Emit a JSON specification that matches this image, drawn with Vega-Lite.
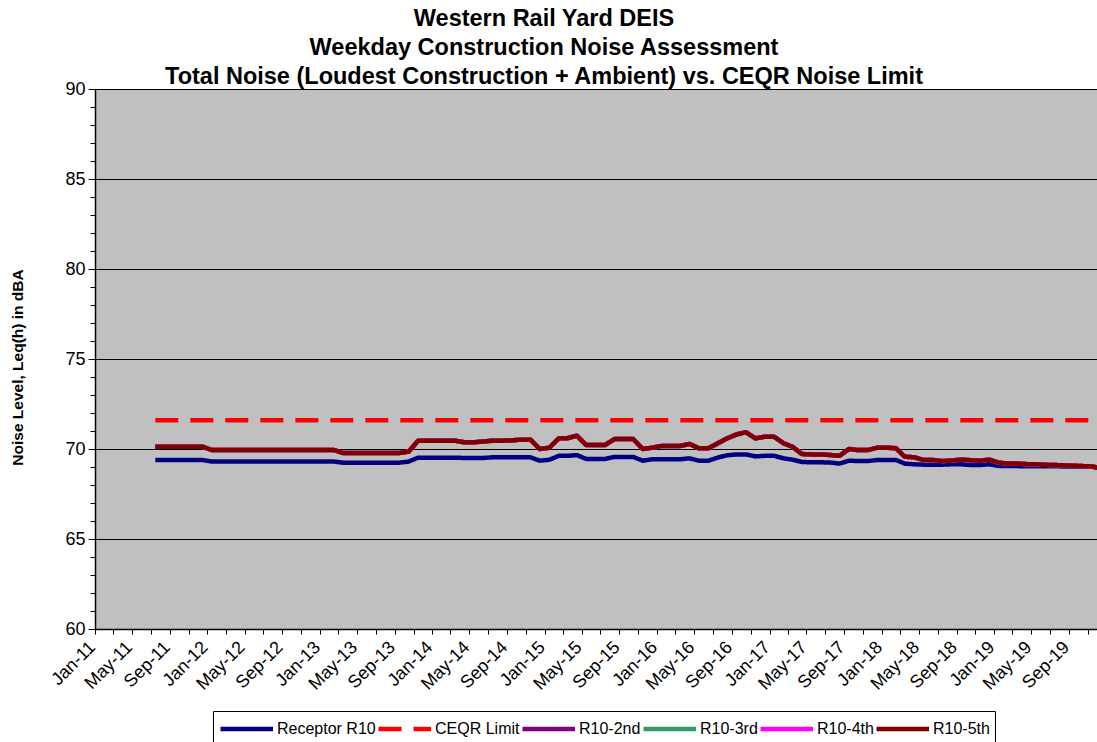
{
"$schema": "https://vega.github.io/schema/vega-lite/v6.json",
"width": 1002,
"height": 540,
"autosize": "none",
"padding": {"left": 95, "top": 89, "right": 0, "bottom": 113},
"background": "white",
"config": {"font": "Liberation Sans", "view": {"fill": "#C0C0C0", "stroke": null}},
"title": {"text": ["Western Rail Yard DEIS", "Weekday Construction Noise Assessment", "Total Noise (Loudest Construction + Ambient) vs. CEQR Noise Limit"], "fontSize": 23.5, "fontWeight": "bold", "font": "Liberation Sans", "lineHeight": 29, "anchor": "middle", "frame": "group", "dx": -52, "offset": -8, "color": "black"},
"data": {"values": [
{"month":"2011-07-16","series":"Receptor R10","dBA":69.39},
{"month":"2011-08-16","series":"Receptor R10","dBA":69.39},
{"month":"2011-09-16","series":"Receptor R10","dBA":69.39},
{"month":"2011-10-16","series":"Receptor R10","dBA":69.39},
{"month":"2011-11-16","series":"Receptor R10","dBA":69.39},
{"month":"2011-12-16","series":"Receptor R10","dBA":69.39},
{"month":"2012-01-16","series":"Receptor R10","dBA":69.30},
{"month":"2012-02-16","series":"Receptor R10","dBA":69.30},
{"month":"2012-03-16","series":"Receptor R10","dBA":69.30},
{"month":"2012-04-16","series":"Receptor R10","dBA":69.30},
{"month":"2012-05-16","series":"Receptor R10","dBA":69.30},
{"month":"2012-06-16","series":"Receptor R10","dBA":69.30},
{"month":"2012-07-16","series":"Receptor R10","dBA":69.30},
{"month":"2012-08-16","series":"Receptor R10","dBA":69.30},
{"month":"2012-09-16","series":"Receptor R10","dBA":69.30},
{"month":"2012-10-16","series":"Receptor R10","dBA":69.30},
{"month":"2012-11-16","series":"Receptor R10","dBA":69.30},
{"month":"2012-12-16","series":"Receptor R10","dBA":69.30},
{"month":"2013-01-16","series":"Receptor R10","dBA":69.30},
{"month":"2013-02-16","series":"Receptor R10","dBA":69.30},
{"month":"2013-03-16","series":"Receptor R10","dBA":69.24},
{"month":"2013-04-16","series":"Receptor R10","dBA":69.24},
{"month":"2013-05-16","series":"Receptor R10","dBA":69.24},
{"month":"2013-06-16","series":"Receptor R10","dBA":69.24},
{"month":"2013-07-16","series":"Receptor R10","dBA":69.24},
{"month":"2013-08-16","series":"Receptor R10","dBA":69.24},
{"month":"2013-09-16","series":"Receptor R10","dBA":69.24},
{"month":"2013-10-16","series":"Receptor R10","dBA":69.30},
{"month":"2013-11-16","series":"Receptor R10","dBA":69.52},
{"month":"2013-12-16","series":"Receptor R10","dBA":69.52},
{"month":"2014-01-16","series":"Receptor R10","dBA":69.52},
{"month":"2014-02-16","series":"Receptor R10","dBA":69.52},
{"month":"2014-03-16","series":"Receptor R10","dBA":69.52},
{"month":"2014-04-16","series":"Receptor R10","dBA":69.50},
{"month":"2014-05-16","series":"Receptor R10","dBA":69.50},
{"month":"2014-06-16","series":"Receptor R10","dBA":69.50},
{"month":"2014-07-16","series":"Receptor R10","dBA":69.54},
{"month":"2014-08-16","series":"Receptor R10","dBA":69.54},
{"month":"2014-09-16","series":"Receptor R10","dBA":69.54},
{"month":"2014-10-16","series":"Receptor R10","dBA":69.54},
{"month":"2014-11-16","series":"Receptor R10","dBA":69.54},
{"month":"2014-12-16","series":"Receptor R10","dBA":69.35},
{"month":"2015-01-16","series":"Receptor R10","dBA":69.40},
{"month":"2015-02-16","series":"Receptor R10","dBA":69.62},
{"month":"2015-03-16","series":"Receptor R10","dBA":69.62},
{"month":"2015-04-16","series":"Receptor R10","dBA":69.66},
{"month":"2015-05-16","series":"Receptor R10","dBA":69.45},
{"month":"2015-06-16","series":"Receptor R10","dBA":69.45},
{"month":"2015-07-16","series":"Receptor R10","dBA":69.45},
{"month":"2015-08-16","series":"Receptor R10","dBA":69.56},
{"month":"2015-09-16","series":"Receptor R10","dBA":69.56},
{"month":"2015-10-16","series":"Receptor R10","dBA":69.56},
{"month":"2015-11-16","series":"Receptor R10","dBA":69.35},
{"month":"2015-12-16","series":"Receptor R10","dBA":69.43},
{"month":"2016-01-16","series":"Receptor R10","dBA":69.43},
{"month":"2016-02-16","series":"Receptor R10","dBA":69.43},
{"month":"2016-03-16","series":"Receptor R10","dBA":69.43},
{"month":"2016-04-16","series":"Receptor R10","dBA":69.48},
{"month":"2016-05-16","series":"Receptor R10","dBA":69.35},
{"month":"2016-06-16","series":"Receptor R10","dBA":69.35},
{"month":"2016-07-16","series":"Receptor R10","dBA":69.52},
{"month":"2016-08-16","series":"Receptor R10","dBA":69.65},
{"month":"2016-09-16","series":"Receptor R10","dBA":69.70},
{"month":"2016-10-16","series":"Receptor R10","dBA":69.70},
{"month":"2016-11-16","series":"Receptor R10","dBA":69.59},
{"month":"2016-12-16","series":"Receptor R10","dBA":69.62},
{"month":"2017-01-16","series":"Receptor R10","dBA":69.62},
{"month":"2017-02-16","series":"Receptor R10","dBA":69.48},
{"month":"2017-03-16","series":"Receptor R10","dBA":69.41},
{"month":"2017-04-16","series":"Receptor R10","dBA":69.28},
{"month":"2017-05-16","series":"Receptor R10","dBA":69.26},
{"month":"2017-06-16","series":"Receptor R10","dBA":69.26},
{"month":"2017-07-16","series":"Receptor R10","dBA":69.25},
{"month":"2017-08-16","series":"Receptor R10","dBA":69.19},
{"month":"2017-09-16","series":"Receptor R10","dBA":69.35},
{"month":"2017-10-16","series":"Receptor R10","dBA":69.33},
{"month":"2017-11-16","series":"Receptor R10","dBA":69.33},
{"month":"2017-12-16","series":"Receptor R10","dBA":69.39},
{"month":"2018-01-16","series":"Receptor R10","dBA":69.39},
{"month":"2018-02-16","series":"Receptor R10","dBA":69.39},
{"month":"2018-03-16","series":"Receptor R10","dBA":69.19},
{"month":"2018-04-16","series":"Receptor R10","dBA":69.15},
{"month":"2018-05-16","series":"Receptor R10","dBA":69.13},
{"month":"2018-06-16","series":"Receptor R10","dBA":69.13},
{"month":"2018-07-16","series":"Receptor R10","dBA":69.13},
{"month":"2018-08-16","series":"Receptor R10","dBA":69.15},
{"month":"2018-09-16","series":"Receptor R10","dBA":69.15},
{"month":"2018-10-16","series":"Receptor R10","dBA":69.11},
{"month":"2018-11-16","series":"Receptor R10","dBA":69.11},
{"month":"2018-12-16","series":"Receptor R10","dBA":69.15},
{"month":"2019-01-16","series":"Receptor R10","dBA":69.06},
{"month":"2019-02-16","series":"Receptor R10","dBA":69.05},
{"month":"2019-03-16","series":"Receptor R10","dBA":69.05},
{"month":"2019-04-16","series":"Receptor R10","dBA":69.04},
{"month":"2019-05-16","series":"Receptor R10","dBA":69.04},
{"month":"2019-06-16","series":"Receptor R10","dBA":69.04},
{"month":"2019-07-16","series":"Receptor R10","dBA":69.04},
{"month":"2019-08-16","series":"Receptor R10","dBA":69.03},
{"month":"2019-09-16","series":"Receptor R10","dBA":69.03},
{"month":"2019-10-16","series":"Receptor R10","dBA":69.02},
{"month":"2019-11-16","series":"Receptor R10","dBA":69.01},
{"month":"2019-12-16","series":"Receptor R10","dBA":68.93},
{"month":"2011-07-16","series":"CEQR Limit","dBA":71.6},
{"month":"2019-12-16","series":"CEQR Limit","dBA":71.6},
{"month":"2011-07-16","series":"R10-2nd","dBA":70.13},
{"month":"2011-08-16","series":"R10-2nd","dBA":70.13},
{"month":"2011-09-16","series":"R10-2nd","dBA":70.13},
{"month":"2011-10-16","series":"R10-2nd","dBA":70.13},
{"month":"2011-11-16","series":"R10-2nd","dBA":70.13},
{"month":"2011-12-16","series":"R10-2nd","dBA":70.13},
{"month":"2012-01-16","series":"R10-2nd","dBA":69.94},
{"month":"2012-02-16","series":"R10-2nd","dBA":69.94},
{"month":"2012-03-16","series":"R10-2nd","dBA":69.94},
{"month":"2012-04-16","series":"R10-2nd","dBA":69.94},
{"month":"2012-05-16","series":"R10-2nd","dBA":69.94},
{"month":"2012-06-16","series":"R10-2nd","dBA":69.94},
{"month":"2012-07-16","series":"R10-2nd","dBA":69.94},
{"month":"2012-08-16","series":"R10-2nd","dBA":69.94},
{"month":"2012-09-16","series":"R10-2nd","dBA":69.94},
{"month":"2012-10-16","series":"R10-2nd","dBA":69.94},
{"month":"2012-11-16","series":"R10-2nd","dBA":69.94},
{"month":"2012-12-16","series":"R10-2nd","dBA":69.94},
{"month":"2013-01-16","series":"R10-2nd","dBA":69.94},
{"month":"2013-02-16","series":"R10-2nd","dBA":69.94},
{"month":"2013-03-16","series":"R10-2nd","dBA":69.78},
{"month":"2013-04-16","series":"R10-2nd","dBA":69.78},
{"month":"2013-05-16","series":"R10-2nd","dBA":69.78},
{"month":"2013-06-16","series":"R10-2nd","dBA":69.78},
{"month":"2013-07-16","series":"R10-2nd","dBA":69.78},
{"month":"2013-08-16","series":"R10-2nd","dBA":69.78},
{"month":"2013-09-16","series":"R10-2nd","dBA":69.78},
{"month":"2013-10-16","series":"R10-2nd","dBA":69.85},
{"month":"2013-11-16","series":"R10-2nd","dBA":70.46},
{"month":"2013-12-16","series":"R10-2nd","dBA":70.46},
{"month":"2014-01-16","series":"R10-2nd","dBA":70.46},
{"month":"2014-02-16","series":"R10-2nd","dBA":70.46},
{"month":"2014-03-16","series":"R10-2nd","dBA":70.46},
{"month":"2014-04-16","series":"R10-2nd","dBA":70.37},
{"month":"2014-05-16","series":"R10-2nd","dBA":70.37},
{"month":"2014-06-16","series":"R10-2nd","dBA":70.42},
{"month":"2014-07-16","series":"R10-2nd","dBA":70.46},
{"month":"2014-08-16","series":"R10-2nd","dBA":70.46},
{"month":"2014-09-16","series":"R10-2nd","dBA":70.48},
{"month":"2014-10-16","series":"R10-2nd","dBA":70.52},
{"month":"2014-11-16","series":"R10-2nd","dBA":70.52},
{"month":"2014-12-16","series":"R10-2nd","dBA":70.00},
{"month":"2015-01-16","series":"R10-2nd","dBA":70.07},
{"month":"2015-02-16","series":"R10-2nd","dBA":70.59},
{"month":"2015-03-16","series":"R10-2nd","dBA":70.60},
{"month":"2015-04-16","series":"R10-2nd","dBA":70.74},
{"month":"2015-05-16","series":"R10-2nd","dBA":70.22},
{"month":"2015-06-16","series":"R10-2nd","dBA":70.22},
{"month":"2015-07-16","series":"R10-2nd","dBA":70.22},
{"month":"2015-08-16","series":"R10-2nd","dBA":70.55},
{"month":"2015-09-16","series":"R10-2nd","dBA":70.55},
{"month":"2015-10-16","series":"R10-2nd","dBA":70.55},
{"month":"2015-11-16","series":"R10-2nd","dBA":70.00},
{"month":"2015-12-16","series":"R10-2nd","dBA":70.07},
{"month":"2016-01-16","series":"R10-2nd","dBA":70.17},
{"month":"2016-02-16","series":"R10-2nd","dBA":70.17},
{"month":"2016-03-16","series":"R10-2nd","dBA":70.17},
{"month":"2016-04-16","series":"R10-2nd","dBA":70.28},
{"month":"2016-05-16","series":"R10-2nd","dBA":70.04},
{"month":"2016-06-16","series":"R10-2nd","dBA":70.04},
{"month":"2016-07-16","series":"R10-2nd","dBA":70.31},
{"month":"2016-08-16","series":"R10-2nd","dBA":70.59},
{"month":"2016-09-16","series":"R10-2nd","dBA":70.81},
{"month":"2016-10-16","series":"R10-2nd","dBA":70.93},
{"month":"2016-11-16","series":"R10-2nd","dBA":70.59},
{"month":"2016-12-16","series":"R10-2nd","dBA":70.68},
{"month":"2017-01-16","series":"R10-2nd","dBA":70.68},
{"month":"2017-02-16","series":"R10-2nd","dBA":70.31},
{"month":"2017-03-16","series":"R10-2nd","dBA":70.13},
{"month":"2017-04-16","series":"R10-2nd","dBA":69.72},
{"month":"2017-05-16","series":"R10-2nd","dBA":69.70},
{"month":"2017-06-16","series":"R10-2nd","dBA":69.70},
{"month":"2017-07-16","series":"R10-2nd","dBA":69.67},
{"month":"2017-08-16","series":"R10-2nd","dBA":69.62},
{"month":"2017-09-16","series":"R10-2nd","dBA":70.00},
{"month":"2017-10-16","series":"R10-2nd","dBA":69.94},
{"month":"2017-11-16","series":"R10-2nd","dBA":69.94},
{"month":"2017-12-16","series":"R10-2nd","dBA":70.07},
{"month":"2018-01-16","series":"R10-2nd","dBA":70.09},
{"month":"2018-02-16","series":"R10-2nd","dBA":70.05},
{"month":"2018-03-16","series":"R10-2nd","dBA":69.57},
{"month":"2018-04-16","series":"R10-2nd","dBA":69.54},
{"month":"2018-05-16","series":"R10-2nd","dBA":69.39},
{"month":"2018-06-16","series":"R10-2nd","dBA":69.39},
{"month":"2018-07-16","series":"R10-2nd","dBA":69.33},
{"month":"2018-08-16","series":"R10-2nd","dBA":69.36},
{"month":"2018-09-16","series":"R10-2nd","dBA":69.41},
{"month":"2018-10-16","series":"R10-2nd","dBA":69.38},
{"month":"2018-11-16","series":"R10-2nd","dBA":69.35},
{"month":"2018-12-16","series":"R10-2nd","dBA":69.41},
{"month":"2019-01-16","series":"R10-2nd","dBA":69.24},
{"month":"2019-02-16","series":"R10-2nd","dBA":69.19},
{"month":"2019-03-16","series":"R10-2nd","dBA":69.19},
{"month":"2019-04-16","series":"R10-2nd","dBA":69.16},
{"month":"2019-05-16","series":"R10-2nd","dBA":69.15},
{"month":"2019-06-16","series":"R10-2nd","dBA":69.12},
{"month":"2019-07-16","series":"R10-2nd","dBA":69.11},
{"month":"2019-08-16","series":"R10-2nd","dBA":69.09},
{"month":"2019-09-16","series":"R10-2nd","dBA":69.07},
{"month":"2019-10-16","series":"R10-2nd","dBA":69.05},
{"month":"2019-11-16","series":"R10-2nd","dBA":69.03},
{"month":"2019-12-16","series":"R10-2nd","dBA":68.90},
{"month":"2011-07-16","series":"R10-3rd","dBA":70.13},
{"month":"2011-08-16","series":"R10-3rd","dBA":70.13},
{"month":"2011-09-16","series":"R10-3rd","dBA":70.13},
{"month":"2011-10-16","series":"R10-3rd","dBA":70.13},
{"month":"2011-11-16","series":"R10-3rd","dBA":70.13},
{"month":"2011-12-16","series":"R10-3rd","dBA":70.13},
{"month":"2012-01-16","series":"R10-3rd","dBA":69.94},
{"month":"2012-02-16","series":"R10-3rd","dBA":69.94},
{"month":"2012-03-16","series":"R10-3rd","dBA":69.94},
{"month":"2012-04-16","series":"R10-3rd","dBA":69.94},
{"month":"2012-05-16","series":"R10-3rd","dBA":69.94},
{"month":"2012-06-16","series":"R10-3rd","dBA":69.94},
{"month":"2012-07-16","series":"R10-3rd","dBA":69.94},
{"month":"2012-08-16","series":"R10-3rd","dBA":69.94},
{"month":"2012-09-16","series":"R10-3rd","dBA":69.94},
{"month":"2012-10-16","series":"R10-3rd","dBA":69.94},
{"month":"2012-11-16","series":"R10-3rd","dBA":69.94},
{"month":"2012-12-16","series":"R10-3rd","dBA":69.94},
{"month":"2013-01-16","series":"R10-3rd","dBA":69.94},
{"month":"2013-02-16","series":"R10-3rd","dBA":69.94},
{"month":"2013-03-16","series":"R10-3rd","dBA":69.78},
{"month":"2013-04-16","series":"R10-3rd","dBA":69.78},
{"month":"2013-05-16","series":"R10-3rd","dBA":69.78},
{"month":"2013-06-16","series":"R10-3rd","dBA":69.78},
{"month":"2013-07-16","series":"R10-3rd","dBA":69.78},
{"month":"2013-08-16","series":"R10-3rd","dBA":69.78},
{"month":"2013-09-16","series":"R10-3rd","dBA":69.78},
{"month":"2013-10-16","series":"R10-3rd","dBA":69.85},
{"month":"2013-11-16","series":"R10-3rd","dBA":70.46},
{"month":"2013-12-16","series":"R10-3rd","dBA":70.46},
{"month":"2014-01-16","series":"R10-3rd","dBA":70.46},
{"month":"2014-02-16","series":"R10-3rd","dBA":70.46},
{"month":"2014-03-16","series":"R10-3rd","dBA":70.46},
{"month":"2014-04-16","series":"R10-3rd","dBA":70.37},
{"month":"2014-05-16","series":"R10-3rd","dBA":70.37},
{"month":"2014-06-16","series":"R10-3rd","dBA":70.42},
{"month":"2014-07-16","series":"R10-3rd","dBA":70.46},
{"month":"2014-08-16","series":"R10-3rd","dBA":70.46},
{"month":"2014-09-16","series":"R10-3rd","dBA":70.48},
{"month":"2014-10-16","series":"R10-3rd","dBA":70.52},
{"month":"2014-11-16","series":"R10-3rd","dBA":70.52},
{"month":"2014-12-16","series":"R10-3rd","dBA":70.00},
{"month":"2015-01-16","series":"R10-3rd","dBA":70.07},
{"month":"2015-02-16","series":"R10-3rd","dBA":70.59},
{"month":"2015-03-16","series":"R10-3rd","dBA":70.60},
{"month":"2015-04-16","series":"R10-3rd","dBA":70.74},
{"month":"2015-05-16","series":"R10-3rd","dBA":70.22},
{"month":"2015-06-16","series":"R10-3rd","dBA":70.22},
{"month":"2015-07-16","series":"R10-3rd","dBA":70.22},
{"month":"2015-08-16","series":"R10-3rd","dBA":70.55},
{"month":"2015-09-16","series":"R10-3rd","dBA":70.55},
{"month":"2015-10-16","series":"R10-3rd","dBA":70.55},
{"month":"2015-11-16","series":"R10-3rd","dBA":70.00},
{"month":"2015-12-16","series":"R10-3rd","dBA":70.07},
{"month":"2016-01-16","series":"R10-3rd","dBA":70.17},
{"month":"2016-02-16","series":"R10-3rd","dBA":70.17},
{"month":"2016-03-16","series":"R10-3rd","dBA":70.17},
{"month":"2016-04-16","series":"R10-3rd","dBA":70.28},
{"month":"2016-05-16","series":"R10-3rd","dBA":70.04},
{"month":"2016-06-16","series":"R10-3rd","dBA":70.04},
{"month":"2016-07-16","series":"R10-3rd","dBA":70.31},
{"month":"2016-08-16","series":"R10-3rd","dBA":70.59},
{"month":"2016-09-16","series":"R10-3rd","dBA":70.81},
{"month":"2016-10-16","series":"R10-3rd","dBA":70.93},
{"month":"2016-11-16","series":"R10-3rd","dBA":70.59},
{"month":"2016-12-16","series":"R10-3rd","dBA":70.68},
{"month":"2017-01-16","series":"R10-3rd","dBA":70.68},
{"month":"2017-02-16","series":"R10-3rd","dBA":70.31},
{"month":"2017-03-16","series":"R10-3rd","dBA":70.13},
{"month":"2017-04-16","series":"R10-3rd","dBA":69.72},
{"month":"2017-05-16","series":"R10-3rd","dBA":69.70},
{"month":"2017-06-16","series":"R10-3rd","dBA":69.70},
{"month":"2017-07-16","series":"R10-3rd","dBA":69.67},
{"month":"2017-08-16","series":"R10-3rd","dBA":69.62},
{"month":"2017-09-16","series":"R10-3rd","dBA":70.00},
{"month":"2017-10-16","series":"R10-3rd","dBA":69.94},
{"month":"2017-11-16","series":"R10-3rd","dBA":69.94},
{"month":"2017-12-16","series":"R10-3rd","dBA":70.07},
{"month":"2018-01-16","series":"R10-3rd","dBA":70.07},
{"month":"2018-02-16","series":"R10-3rd","dBA":70.04},
{"month":"2018-03-16","series":"R10-3rd","dBA":69.57},
{"month":"2018-04-16","series":"R10-3rd","dBA":69.54},
{"month":"2018-05-16","series":"R10-3rd","dBA":69.39},
{"month":"2018-06-16","series":"R10-3rd","dBA":69.39},
{"month":"2018-07-16","series":"R10-3rd","dBA":69.33},
{"month":"2018-08-16","series":"R10-3rd","dBA":69.36},
{"month":"2018-09-16","series":"R10-3rd","dBA":69.41},
{"month":"2018-10-16","series":"R10-3rd","dBA":69.38},
{"month":"2018-11-16","series":"R10-3rd","dBA":69.35},
{"month":"2018-12-16","series":"R10-3rd","dBA":69.41},
{"month":"2019-01-16","series":"R10-3rd","dBA":69.24},
{"month":"2019-02-16","series":"R10-3rd","dBA":69.19},
{"month":"2019-03-16","series":"R10-3rd","dBA":69.19},
{"month":"2019-04-16","series":"R10-3rd","dBA":69.16},
{"month":"2019-05-16","series":"R10-3rd","dBA":69.15},
{"month":"2019-06-16","series":"R10-3rd","dBA":69.12},
{"month":"2019-07-16","series":"R10-3rd","dBA":69.11},
{"month":"2019-08-16","series":"R10-3rd","dBA":69.09},
{"month":"2019-09-16","series":"R10-3rd","dBA":69.07},
{"month":"2019-10-16","series":"R10-3rd","dBA":69.05},
{"month":"2019-11-16","series":"R10-3rd","dBA":69.03},
{"month":"2019-12-16","series":"R10-3rd","dBA":68.90},
{"month":"2011-07-16","series":"R10-4th","dBA":70.13},
{"month":"2011-08-16","series":"R10-4th","dBA":70.13},
{"month":"2011-09-16","series":"R10-4th","dBA":70.13},
{"month":"2011-10-16","series":"R10-4th","dBA":70.13},
{"month":"2011-11-16","series":"R10-4th","dBA":70.13},
{"month":"2011-12-16","series":"R10-4th","dBA":70.13},
{"month":"2012-01-16","series":"R10-4th","dBA":69.94},
{"month":"2012-02-16","series":"R10-4th","dBA":69.94},
{"month":"2012-03-16","series":"R10-4th","dBA":69.94},
{"month":"2012-04-16","series":"R10-4th","dBA":69.94},
{"month":"2012-05-16","series":"R10-4th","dBA":69.94},
{"month":"2012-06-16","series":"R10-4th","dBA":69.94},
{"month":"2012-07-16","series":"R10-4th","dBA":69.94},
{"month":"2012-08-16","series":"R10-4th","dBA":69.94},
{"month":"2012-09-16","series":"R10-4th","dBA":69.94},
{"month":"2012-10-16","series":"R10-4th","dBA":69.94},
{"month":"2012-11-16","series":"R10-4th","dBA":69.94},
{"month":"2012-12-16","series":"R10-4th","dBA":69.94},
{"month":"2013-01-16","series":"R10-4th","dBA":69.94},
{"month":"2013-02-16","series":"R10-4th","dBA":69.94},
{"month":"2013-03-16","series":"R10-4th","dBA":69.78},
{"month":"2013-04-16","series":"R10-4th","dBA":69.78},
{"month":"2013-05-16","series":"R10-4th","dBA":69.78},
{"month":"2013-06-16","series":"R10-4th","dBA":69.78},
{"month":"2013-07-16","series":"R10-4th","dBA":69.78},
{"month":"2013-08-16","series":"R10-4th","dBA":69.78},
{"month":"2013-09-16","series":"R10-4th","dBA":69.78},
{"month":"2013-10-16","series":"R10-4th","dBA":69.86},
{"month":"2013-11-16","series":"R10-4th","dBA":70.46},
{"month":"2013-12-16","series":"R10-4th","dBA":70.46},
{"month":"2014-01-16","series":"R10-4th","dBA":70.46},
{"month":"2014-02-16","series":"R10-4th","dBA":70.46},
{"month":"2014-03-16","series":"R10-4th","dBA":70.46},
{"month":"2014-04-16","series":"R10-4th","dBA":70.38},
{"month":"2014-05-16","series":"R10-4th","dBA":70.38},
{"month":"2014-06-16","series":"R10-4th","dBA":70.42},
{"month":"2014-07-16","series":"R10-4th","dBA":70.46},
{"month":"2014-08-16","series":"R10-4th","dBA":70.46},
{"month":"2014-09-16","series":"R10-4th","dBA":70.48},
{"month":"2014-10-16","series":"R10-4th","dBA":70.52},
{"month":"2014-11-16","series":"R10-4th","dBA":70.52},
{"month":"2014-12-16","series":"R10-4th","dBA":70.00},
{"month":"2015-01-16","series":"R10-4th","dBA":70.07},
{"month":"2015-02-16","series":"R10-4th","dBA":70.59},
{"month":"2015-03-16","series":"R10-4th","dBA":70.60},
{"month":"2015-04-16","series":"R10-4th","dBA":70.74},
{"month":"2015-05-16","series":"R10-4th","dBA":70.22},
{"month":"2015-06-16","series":"R10-4th","dBA":70.22},
{"month":"2015-07-16","series":"R10-4th","dBA":70.22},
{"month":"2015-08-16","series":"R10-4th","dBA":70.55},
{"month":"2015-09-16","series":"R10-4th","dBA":70.55},
{"month":"2015-10-16","series":"R10-4th","dBA":70.55},
{"month":"2015-11-16","series":"R10-4th","dBA":70.00},
{"month":"2015-12-16","series":"R10-4th","dBA":70.07},
{"month":"2016-01-16","series":"R10-4th","dBA":70.17},
{"month":"2016-02-16","series":"R10-4th","dBA":70.17},
{"month":"2016-03-16","series":"R10-4th","dBA":70.17},
{"month":"2016-04-16","series":"R10-4th","dBA":70.28},
{"month":"2016-05-16","series":"R10-4th","dBA":70.04},
{"month":"2016-06-16","series":"R10-4th","dBA":70.04},
{"month":"2016-07-16","series":"R10-4th","dBA":70.31},
{"month":"2016-08-16","series":"R10-4th","dBA":70.60},
{"month":"2016-09-16","series":"R10-4th","dBA":70.82},
{"month":"2016-10-16","series":"R10-4th","dBA":70.93},
{"month":"2016-11-16","series":"R10-4th","dBA":70.59},
{"month":"2016-12-16","series":"R10-4th","dBA":70.68},
{"month":"2017-01-16","series":"R10-4th","dBA":70.68},
{"month":"2017-02-16","series":"R10-4th","dBA":70.31},
{"month":"2017-03-16","series":"R10-4th","dBA":70.13},
{"month":"2017-04-16","series":"R10-4th","dBA":69.72},
{"month":"2017-05-16","series":"R10-4th","dBA":69.70},
{"month":"2017-06-16","series":"R10-4th","dBA":69.70},
{"month":"2017-07-16","series":"R10-4th","dBA":69.67},
{"month":"2017-08-16","series":"R10-4th","dBA":69.62},
{"month":"2017-09-16","series":"R10-4th","dBA":70.00},
{"month":"2017-10-16","series":"R10-4th","dBA":69.94},
{"month":"2017-11-16","series":"R10-4th","dBA":69.94},
{"month":"2017-12-16","series":"R10-4th","dBA":70.07},
{"month":"2018-01-16","series":"R10-4th","dBA":70.07},
{"month":"2018-02-16","series":"R10-4th","dBA":70.04},
{"month":"2018-03-16","series":"R10-4th","dBA":69.57},
{"month":"2018-04-16","series":"R10-4th","dBA":69.54},
{"month":"2018-05-16","series":"R10-4th","dBA":69.39},
{"month":"2018-06-16","series":"R10-4th","dBA":69.39},
{"month":"2018-07-16","series":"R10-4th","dBA":69.33},
{"month":"2018-08-16","series":"R10-4th","dBA":69.36},
{"month":"2018-09-16","series":"R10-4th","dBA":69.41},
{"month":"2018-10-16","series":"R10-4th","dBA":69.38},
{"month":"2018-11-16","series":"R10-4th","dBA":69.35},
{"month":"2018-12-16","series":"R10-4th","dBA":69.41},
{"month":"2019-01-16","series":"R10-4th","dBA":69.24},
{"month":"2019-02-16","series":"R10-4th","dBA":69.19},
{"month":"2019-03-16","series":"R10-4th","dBA":69.19},
{"month":"2019-04-16","series":"R10-4th","dBA":69.16},
{"month":"2019-05-16","series":"R10-4th","dBA":69.15},
{"month":"2019-06-16","series":"R10-4th","dBA":69.12},
{"month":"2019-07-16","series":"R10-4th","dBA":69.11},
{"month":"2019-08-16","series":"R10-4th","dBA":69.09},
{"month":"2019-09-16","series":"R10-4th","dBA":69.07},
{"month":"2019-10-16","series":"R10-4th","dBA":69.05},
{"month":"2019-11-16","series":"R10-4th","dBA":69.03},
{"month":"2019-12-16","series":"R10-4th","dBA":68.90},
{"month":"2011-07-16","series":"R10-5th","dBA":70.13},
{"month":"2011-08-16","series":"R10-5th","dBA":70.13},
{"month":"2011-09-16","series":"R10-5th","dBA":70.13},
{"month":"2011-10-16","series":"R10-5th","dBA":70.13},
{"month":"2011-11-16","series":"R10-5th","dBA":70.13},
{"month":"2011-12-16","series":"R10-5th","dBA":70.13},
{"month":"2012-01-16","series":"R10-5th","dBA":69.94},
{"month":"2012-02-16","series":"R10-5th","dBA":69.94},
{"month":"2012-03-16","series":"R10-5th","dBA":69.94},
{"month":"2012-04-16","series":"R10-5th","dBA":69.94},
{"month":"2012-05-16","series":"R10-5th","dBA":69.94},
{"month":"2012-06-16","series":"R10-5th","dBA":69.94},
{"month":"2012-07-16","series":"R10-5th","dBA":69.94},
{"month":"2012-08-16","series":"R10-5th","dBA":69.94},
{"month":"2012-09-16","series":"R10-5th","dBA":69.94},
{"month":"2012-10-16","series":"R10-5th","dBA":69.94},
{"month":"2012-11-16","series":"R10-5th","dBA":69.94},
{"month":"2012-12-16","series":"R10-5th","dBA":69.94},
{"month":"2013-01-16","series":"R10-5th","dBA":69.94},
{"month":"2013-02-16","series":"R10-5th","dBA":69.94},
{"month":"2013-03-16","series":"R10-5th","dBA":69.78},
{"month":"2013-04-16","series":"R10-5th","dBA":69.78},
{"month":"2013-05-16","series":"R10-5th","dBA":69.78},
{"month":"2013-06-16","series":"R10-5th","dBA":69.78},
{"month":"2013-07-16","series":"R10-5th","dBA":69.78},
{"month":"2013-08-16","series":"R10-5th","dBA":69.78},
{"month":"2013-09-16","series":"R10-5th","dBA":69.78},
{"month":"2013-10-16","series":"R10-5th","dBA":69.85},
{"month":"2013-11-16","series":"R10-5th","dBA":70.46},
{"month":"2013-12-16","series":"R10-5th","dBA":70.46},
{"month":"2014-01-16","series":"R10-5th","dBA":70.46},
{"month":"2014-02-16","series":"R10-5th","dBA":70.46},
{"month":"2014-03-16","series":"R10-5th","dBA":70.46},
{"month":"2014-04-16","series":"R10-5th","dBA":70.37},
{"month":"2014-05-16","series":"R10-5th","dBA":70.37},
{"month":"2014-06-16","series":"R10-5th","dBA":70.42},
{"month":"2014-07-16","series":"R10-5th","dBA":70.46},
{"month":"2014-08-16","series":"R10-5th","dBA":70.46},
{"month":"2014-09-16","series":"R10-5th","dBA":70.48},
{"month":"2014-10-16","series":"R10-5th","dBA":70.52},
{"month":"2014-11-16","series":"R10-5th","dBA":70.52},
{"month":"2014-12-16","series":"R10-5th","dBA":70.00},
{"month":"2015-01-16","series":"R10-5th","dBA":70.07},
{"month":"2015-02-16","series":"R10-5th","dBA":70.59},
{"month":"2015-03-16","series":"R10-5th","dBA":70.60},
{"month":"2015-04-16","series":"R10-5th","dBA":70.74},
{"month":"2015-05-16","series":"R10-5th","dBA":70.22},
{"month":"2015-06-16","series":"R10-5th","dBA":70.22},
{"month":"2015-07-16","series":"R10-5th","dBA":70.22},
{"month":"2015-08-16","series":"R10-5th","dBA":70.55},
{"month":"2015-09-16","series":"R10-5th","dBA":70.55},
{"month":"2015-10-16","series":"R10-5th","dBA":70.55},
{"month":"2015-11-16","series":"R10-5th","dBA":70.00},
{"month":"2015-12-16","series":"R10-5th","dBA":70.07},
{"month":"2016-01-16","series":"R10-5th","dBA":70.17},
{"month":"2016-02-16","series":"R10-5th","dBA":70.17},
{"month":"2016-03-16","series":"R10-5th","dBA":70.17},
{"month":"2016-04-16","series":"R10-5th","dBA":70.28},
{"month":"2016-05-16","series":"R10-5th","dBA":70.04},
{"month":"2016-06-16","series":"R10-5th","dBA":70.04},
{"month":"2016-07-16","series":"R10-5th","dBA":70.31},
{"month":"2016-08-16","series":"R10-5th","dBA":70.59},
{"month":"2016-09-16","series":"R10-5th","dBA":70.81},
{"month":"2016-10-16","series":"R10-5th","dBA":70.93},
{"month":"2016-11-16","series":"R10-5th","dBA":70.59},
{"month":"2016-12-16","series":"R10-5th","dBA":70.68},
{"month":"2017-01-16","series":"R10-5th","dBA":70.68},
{"month":"2017-02-16","series":"R10-5th","dBA":70.31},
{"month":"2017-03-16","series":"R10-5th","dBA":70.13},
{"month":"2017-04-16","series":"R10-5th","dBA":69.72},
{"month":"2017-05-16","series":"R10-5th","dBA":69.70},
{"month":"2017-06-16","series":"R10-5th","dBA":69.70},
{"month":"2017-07-16","series":"R10-5th","dBA":69.67},
{"month":"2017-08-16","series":"R10-5th","dBA":69.62},
{"month":"2017-09-16","series":"R10-5th","dBA":70.00},
{"month":"2017-10-16","series":"R10-5th","dBA":69.94},
{"month":"2017-11-16","series":"R10-5th","dBA":69.94},
{"month":"2017-12-16","series":"R10-5th","dBA":70.07},
{"month":"2018-01-16","series":"R10-5th","dBA":70.07},
{"month":"2018-02-16","series":"R10-5th","dBA":70.04},
{"month":"2018-03-16","series":"R10-5th","dBA":69.57},
{"month":"2018-04-16","series":"R10-5th","dBA":69.54},
{"month":"2018-05-16","series":"R10-5th","dBA":69.39},
{"month":"2018-06-16","series":"R10-5th","dBA":69.39},
{"month":"2018-07-16","series":"R10-5th","dBA":69.33},
{"month":"2018-08-16","series":"R10-5th","dBA":69.36},
{"month":"2018-09-16","series":"R10-5th","dBA":69.41},
{"month":"2018-10-16","series":"R10-5th","dBA":69.38},
{"month":"2018-11-16","series":"R10-5th","dBA":69.35},
{"month":"2018-12-16","series":"R10-5th","dBA":69.41},
{"month":"2019-01-16","series":"R10-5th","dBA":69.24},
{"month":"2019-02-16","series":"R10-5th","dBA":69.19},
{"month":"2019-03-16","series":"R10-5th","dBA":69.19},
{"month":"2019-04-16","series":"R10-5th","dBA":69.16},
{"month":"2019-05-16","series":"R10-5th","dBA":69.15},
{"month":"2019-06-16","series":"R10-5th","dBA":69.12},
{"month":"2019-07-16","series":"R10-5th","dBA":69.11},
{"month":"2019-08-16","series":"R10-5th","dBA":69.09},
{"month":"2019-09-16","series":"R10-5th","dBA":69.07},
{"month":"2019-10-16","series":"R10-5th","dBA":69.05},
{"month":"2019-11-16","series":"R10-5th","dBA":69.03},
{"month":"2019-12-16","series":"R10-5th","dBA":68.90}
]},
"mark": {"type": "line", "clip": true, "strokeWidth": 4.5, "strokeJoin": "round", "strokeCap": "butt"},
"encoding": {
"x": {"field": "month", "type": "temporal",
 "scale": {"type": "utc", "domain": [{"year": 2011, "month": 1, "date": 1, "utc": true}, {"year": 2019, "month": 12, "date": 1, "utc": true}]},
 "axis": {"title": null, "grid": false, "tickCount": {"interval": "month", "step": 2}, "labelExpr": "utcmonth(datum.value) % 4 === 0 ? utcFormat(datum.value, '%b-%y') : ''", "labelAngle": -45, "labelAlign": "right", "labelBaseline": "top", "labelFontSize": 18, "labelColor": "black", "labelFont": "Liberation Sans", "labelOverlap": false, "labelFlush": false, "labelBound": false, "labelPadding": 4, "labelOffset": -9, "tickColor": "black", "tickSize": 5, "domainColor": "black", "domainWidth": 1.5}},
"y": {"field": "dBA", "type": "quantitative",
 "scale": {"domain": [60, 90], "nice": false, "zero": false},
 "axis": {"values": [60,61,62,63,64,65,66,67,68,69,70,71,72,73,74,75,76,77,78,79,80,81,82,83,84,85,86,87,88,89,90],
  "grid": true, "gridColor": "black", "gridWidth": 1,
  "gridOpacity": {"condition": {"test": "datum.value % 5 === 0", "value": 1}, "value": 0},
  "labelExpr": "datum.value % 5 === 0 ? datum.value : ''",
  "labelFontSize": 18, "labelColor": "black", "labelFont": "Liberation Sans", "labelPadding": 3, "labelOverlap": false, "labelFlush": false, "labelBound": false,
  "tickColor": "black", "tickSize": {"condition": {"test": "datum.value % 5 === 0", "value": 7}, "value": 5},
  "domainColor": "black", "domainWidth": 1.5,
  "title": "Noise Level, Leq(h) in dBA", "titleFontSize": 15.5, "titleFontWeight": "bold", "titleFont": "Liberation Sans", "titleColor": "black",
  "titleX": -78, "titleY": 278, "titleAngle": -90, "titleAlign": "center", "titleBaseline": "middle"}},
"color": {"field": "series", "type": "nominal",
 "scale": {"domain": ["Receptor R10", "CEQR Limit", "R10-2nd", "R10-3rd", "R10-4th", "R10-5th"], "range": ["#000080", "#FF0000", "#800080", "#339966", "#FF00FF", "#800000"]},
 "legend": {"title": null, "orient": "none", "legendX": 118, "legendY": 622, "direction": "horizontal", "columns": 6, "symbolType": "M-1,0H4", "symbolSize": 441, "symbolStrokeWidth": 4.5, "labelFontSize": 16, "labelFont": "Liberation Sans", "labelColor": "black", "labelOffset": 33, "columnPadding": -7, "fillColor": "white", "strokeColor": "black", "padding": 5, "labelLimit": 200}},
"strokeDash": {"field": "series", "type": "nominal",
 "scale": {"domain": ["Receptor R10", "CEQR Limit", "R10-2nd", "R10-3rd", "R10-4th", "R10-5th"], "range": [[1,0],[23,12],[1,0],[1,0],[1,0],[1,0]]},
 "legend": {"title": null, "orient": "none", "legendX": 118, "legendY": 622, "direction": "horizontal", "columns": 6, "symbolType": "M-1,0H4", "symbolSize": 441, "symbolStrokeWidth": 4.5, "labelFontSize": 16, "labelFont": "Liberation Sans", "labelColor": "black", "labelOffset": 33, "columnPadding": -7, "fillColor": "white", "strokeColor": "black", "padding": 5, "labelLimit": 200}}
}
}
